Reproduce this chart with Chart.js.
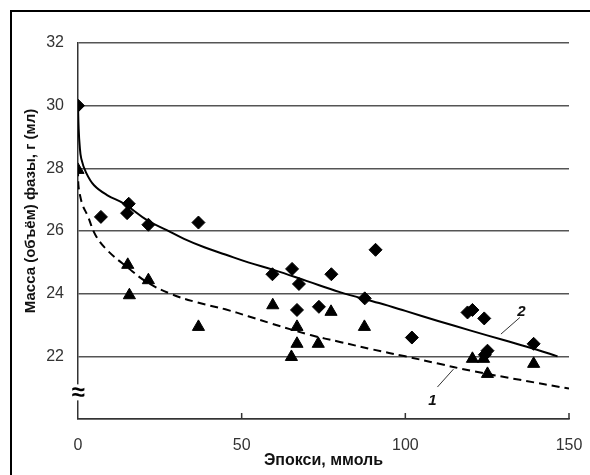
<!DOCTYPE html>
<html>
<head>
<meta charset="utf-8">
<script src="https://cdn.jsdelivr.net/npm/chart.js@4.4.1/dist/chart.umd.min.js"></script>
<style>
  html, body { margin: 0; padding: 0; background: #fff; }
  #wrap { width: 590px; height: 475px; }
</style>
</head>
<body>
<div id="wrap"><canvas id="chart" width="590" height="475"></canvas></div>
<script>
// axis ticks
const xTicks = [0, 50, 100, 150];
const yTicks = [22, 24, 26, 28, 30, 32];

// series 2 (diamonds)
const diaX = [0, 7, 15.5, 15, 21.5, 36.8, 59.4, 65.4, 67.5, 66.9, 73.6, 77.4, 87.6, 90.9, 102, 119, 120.5, 124.1, 125.1, 124.3, 139.2];
const diaY = [30, 26.45, 26.87, 26.57, 26.2, 26.27, 24.62, 24.79, 24.31, 23.48, 23.58, 24.62, 23.85, 25.4, 22.6, 23.4, 23.48, 23.21, 22.18, 22.05, 22.4];

// series 1 (triangles)
const triX = [0, 15.2, 15.7, 21.5, 36.8, 59.5, 65.2, 66.9, 66.9, 73.4, 77.3, 87.5, 120.5, 123.9, 125.1, 139.2];
const triY = [27.95, 24.92, 23.95, 24.43, 22.94, 23.63, 21.98, 22.94, 22.4, 22.4, 23.42, 22.94, 21.92, 21.92, 21.44, 21.76];

// fitted curve 2 (solid)
const c2X = [0, 0.2, 0.5, 1, 2.4, 4.9, 9, 14.1, 21.2, 27.3, 32.4, 38.6, 45, 52, 60, 70, 80, 92, 100, 110, 120, 130, 140, 146.5];
const c2Y = [30, 29.27, 28.74, 28.31, 27.88, 27.46, 27.14, 26.87, 26.34, 26.02, 25.75, 25.48, 25.25, 25.0, 24.75, 24.4, 24.05, 23.7, 23.45, 23.13, 22.82, 22.52, 22.22, 22.0];

// fitted curve 1 (dashed)
const c1X = [0, 0.1, 0.6, 1.5, 2.9, 5.4, 9, 15.1, 21.2, 28.4, 36.5, 45, 52, 59, 71, 80, 90, 100, 110, 120, 135, 150];
const c1Y = [28, 27.5, 27.15, 26.8, 26.5, 25.86, 25.38, 24.84, 24.36, 23.99, 23.72, 23.5, 23.28, 23.05, 22.68, 22.46, 22.22, 22.0, 21.77, 21.54, 21.25, 20.97];

const pts = (xs, ys) => xs.map((v, i) => ({ x: v, y: ys[i] }));

const decor = {
    id: 'decor',
    beforeDraw(chart) {
        const ctx = chart.ctx;
        ctx.save();
        ctx.fillStyle = '#fff';
        ctx.fillRect(0, 0, chart.width, chart.height);
        ctx.restore();
    },
    afterDraw(chart) {
        const { ctx, scales: { x, y } } = chart;
        ctx.save();

        // outer frame (only top and left edges are in view)
        ctx.strokeStyle = '#000';
        ctx.lineWidth = 2;
        ctx.beginPath();
        ctx.moveTo(11, chart.height);
        ctx.lineTo(11, 11);
        ctx.lineTo(chart.width, 11);
        ctx.stroke();

        // inward tick marks on the x axis
        ctx.strokeStyle = '#333';
        ctx.lineWidth = 1.5;
        xTicks.slice(1).forEach(v => {
            const px = x.getPixelForValue(v);
            ctx.beginPath();
            ctx.moveTo(px, y.bottom);
            ctx.lineTo(px, y.bottom - 6);
            ctx.stroke();
        });

        // axis break mark
        const bx = x.getPixelForValue(0), by = y.getPixelForValue(20.85);
        ctx.fillStyle = '#fff';
        ctx.fillRect(bx - 6, by - 8, 12, 16);
        ctx.fillStyle = '#000';
        ctx.font = 'bold 24px "Liberation Sans", Arial, sans-serif';
        ctx.textAlign = 'center';
        ctx.textBaseline = 'middle';
        ctx.fillText('≈', bx, by + 1);

        // y axis title
        ctx.save();
        ctx.translate(31, 211);
        ctx.rotate(-Math.PI / 2);
        ctx.font = 'bold 15px "Liberation Sans", Arial, sans-serif';
        ctx.fillStyle = '#111';
        ctx.fillText('Масса (объём) фазы, г (мл)', 0, 0);
        ctx.restore();

        // curve labels with leader lines
        ctx.strokeStyle = '#333';
        ctx.lineWidth = 1;
        ctx.beginPath();
        ctx.moveTo(x.getPixelForValue(135), y.getPixelForValue(23.24));
        ctx.lineTo(x.getPixelForValue(129.2), y.getPixelForValue(22.71));
        ctx.moveTo(x.getPixelForValue(114.7), y.getPixelForValue(21.59));
        ctx.lineTo(x.getPixelForValue(109.8), y.getPixelForValue(21.02));
        ctx.stroke();
        ctx.font = 'italic bold 15px "Liberation Sans", Arial, sans-serif';
        ctx.fillStyle = '#111';
        ctx.fillText('2', x.getPixelForValue(135.5), y.getPixelForValue(23.42));
        ctx.fillText('1', x.getPixelForValue(108.3), y.getPixelForValue(20.58));

        ctx.restore();
    }
};

new Chart(document.getElementById('chart'), {
    type: 'scatter',
    data: {
        datasets: [
            {
                label: '2',
                data: pts(c2X, c2Y),
                showLine: true,
                borderColor: '#000',
                borderWidth: 2,
                pointRadius: 0,
                tension: 0.4
            },
            {
                label: '1',
                data: pts(c1X, c1Y),
                showLine: true,
                borderColor: '#000',
                borderWidth: 2,
                borderDash: [8, 5],
                pointRadius: 0,
                tension: 0.4
            },
            {
                label: 'diamonds',
                data: pts(diaX, diaY),
                pointStyle: 'rectRot',
                pointRadius: 6.5,
                backgroundColor: '#000',
                borderColor: '#000',
                borderWidth: 1
            },
            {
                label: 'triangles',
                data: pts(triX, triY),
                pointStyle: 'triangle',
                pointRadius: 7,
                backgroundColor: '#000',
                borderColor: '#000',
                borderWidth: 1
            }
        ]
    },
    options: {
        responsive: false,
        animation: false,
        layout: { padding: { left: 0, top: 43, right: 21, bottom: 0 } },
        plugins: {
            legend: { display: false },
            tooltip: { enabled: false }
        },
        scales: {
            x: {
                type: 'linear',
                min: 0,
                max: 150,
                afterFit: s => { s.height = 56; },
                afterBuildTicks: s => { s.ticks = xTicks.map(v => ({ value: v })); },
                ticks: {
                    padding: 0,
                    color: '#333',
                    font: { family: '"Liberation Sans", Arial, sans-serif', size: 16 }
                },
                // transparent outward ticks only push the labels down
                grid: { drawOnChartArea: false, drawTicks: true, tickLength: 17, tickColor: 'rgba(0,0,0,0)' },
                border: { color: '#333', width: 1.5 },
                title: {
                    display: true,
                    text: 'Эпокси, ммоль',
                    color: '#111',
                    font: { family: '"Liberation Sans", Arial, sans-serif', size: 16, weight: 'bold' },
                    padding: { top: 0, bottom: 5 }
                }
            },
            y: {
                type: 'linear',
                min: 20,
                max: 32,
                afterFit: s => { s.width = 78; },
                afterBuildTicks: s => { s.ticks = [20].concat(yTicks).map(v => ({ value: v })); },
                ticks: {
                    padding: 14,
                    color: '#333',
                    font: { family: '"Liberation Sans", Arial, sans-serif', size: 16 },
                    callback: v => (v === 20 ? '' : v)
                },
                grid: { color: '#555', lineWidth: 1.5, drawTicks: false },
                border: { color: '#333', width: 1.5 }
            }
        }
    },
    plugins: [decor]
});
</script>
</body>
</html>
